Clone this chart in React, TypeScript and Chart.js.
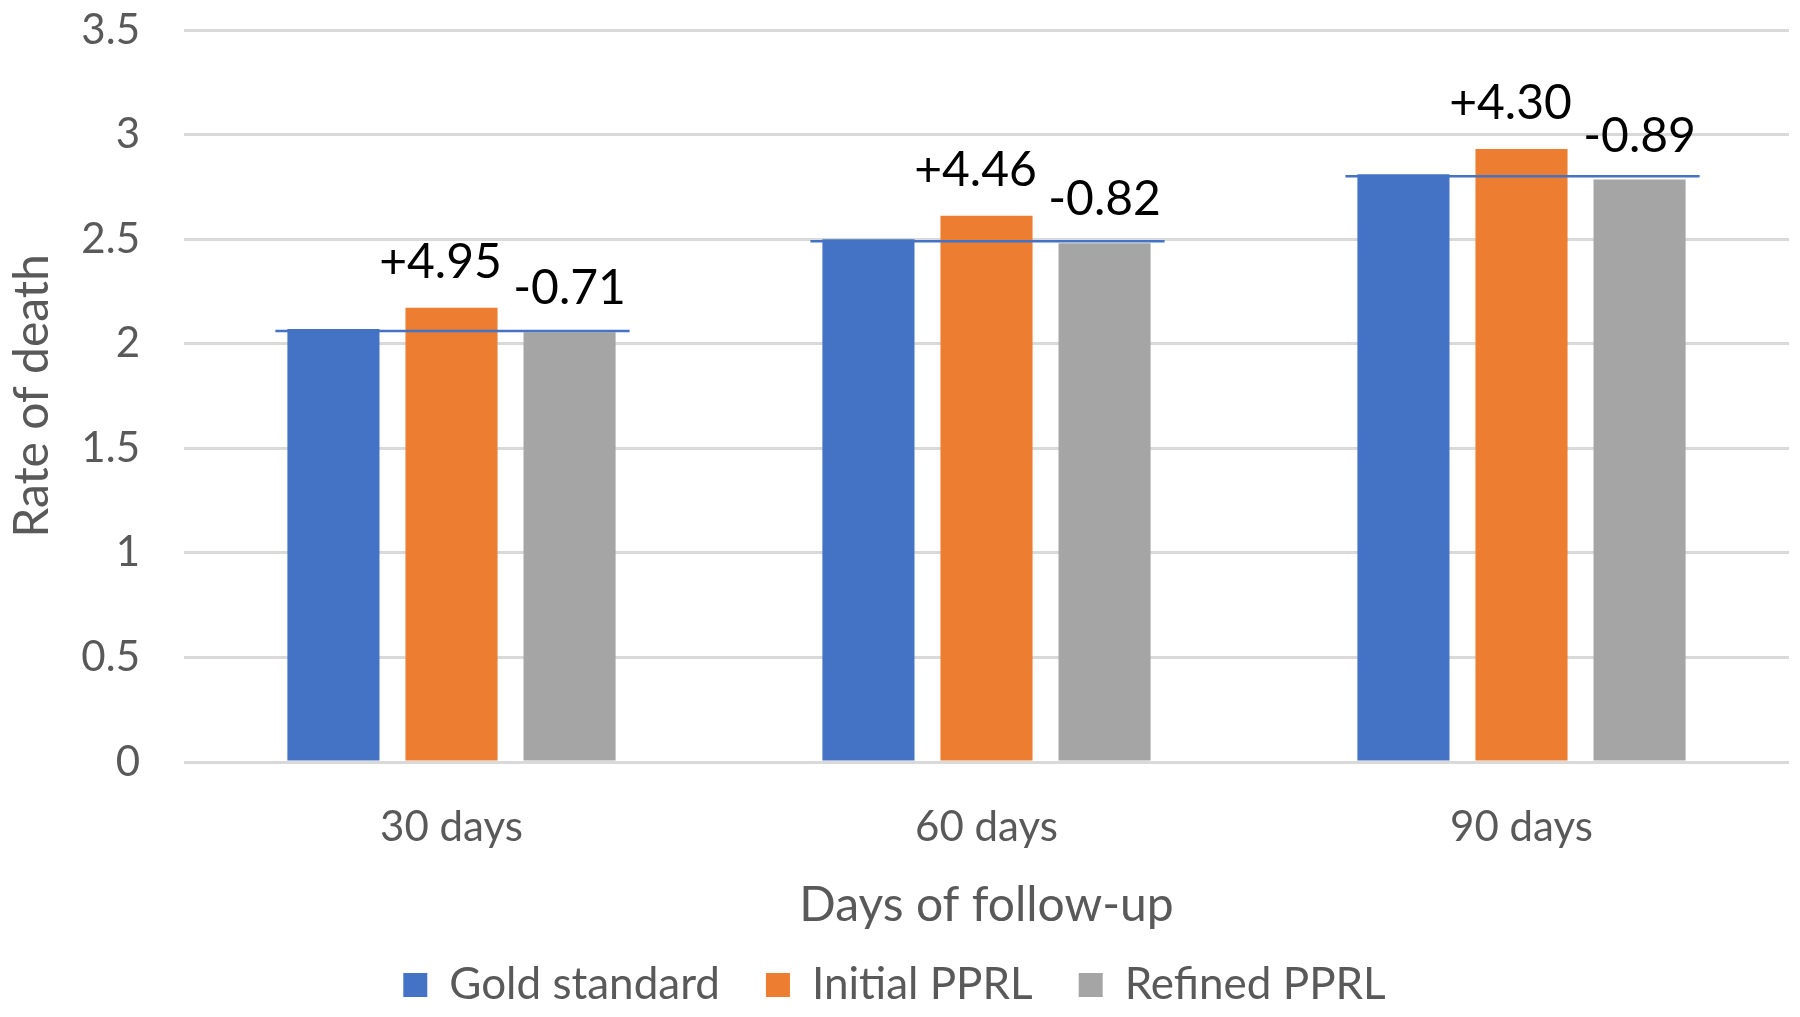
import React, { useEffect, useRef } from "react";
import { Chart, registerables } from "chart.js";

Chart.register(...registerables);

const categories = ["30 days", "60 days", "90 days"];
const goldStandard = [2.07, 2.5, 2.81];
const initialPPRL = [2.172, 2.612, 2.931];
const refinedPPRL = [2.055, 2.48, 2.785];
const initialDiff = [4.95, 4.46, 4.3];
const refinedDiff = [-0.71, -0.82, -0.89];
const yTicks = [0, 0.5, 1, 1.5, 2, 2.5, 3, 3.5];

const FONT = "Lato, 'Open Sans', sans-serif";

const fmt = (v: number) => (v > 0 ? "+" : "") + v.toFixed(2);

const overlayPlugin = {
  id: "overlay",
  afterDatasetsDraw(chart: any) {
    const ctx = chart.ctx;
    const y = chart.scales.y;
    const m0 = chart.getDatasetMeta(0).data;
    const m1 = chart.getDatasetMeta(1).data;
    const m2 = chart.getDatasetMeta(2).data;
    ctx.save();
    for (let i = 0; i < categories.length; i++) {
      const b0 = m0[i];
      const b1 = m1[i];
      const b2 = m2[i];
      if (!b0 || !b1 || !b2) continue;
      const yy = y.getPixelForValue(goldStandard[i]) + 2;
      ctx.strokeStyle = "#4472C4";
      ctx.lineWidth = 2.5;
      ctx.beginPath();
      ctx.moveTo(b0.x - b0.width / 2 - 12, yy);
      ctx.lineTo(b2.x + b2.width / 2 + 14, yy);
      ctx.stroke();

      ctx.fillStyle = "#000000";
      ctx.font = `48px ${FONT}`;
      ctx.textAlign = "center";
      ctx.textBaseline = "alphabetic";
      ctx.fillText(fmt(initialDiff[i]), b1.x - 11, b1.y - 30);
      ctx.fillText(fmt(refinedDiff[i]), b2.x, b2.y - 28);
    }
    ctx.restore();
  },
};

export default function App() {
  const ref = useRef<HTMLCanvasElement | null>(null);

  useEffect(() => {
    document.body.style.margin = "0";
    const canvas = ref.current;
    if (!canvas) return;
    const chart = new Chart(canvas, {
      type: "bar",
      data: {
        labels: categories,
        datasets: [
          { label: "Gold standard", data: goldStandard, backgroundColor: "#4472C4" },
          { label: "Initial PPRL", data: initialPPRL, backgroundColor: "#ED7D31" },
          { label: "Refined PPRL", data: refinedPPRL, backgroundColor: "#A5A5A5" },
        ],
      },
      options: {
        responsive: false,
        animation: false,
        devicePixelRatio: 1,
        layout: { padding: { top: 30, right: 11, left: 0, bottom: 0 } },
        datasets: {
          bar: { categoryPercentage: 0.662, barPercentage: 0.78, borderWidth: 0 },
        },
        plugins: {
          tooltip: { enabled: false },
          legend: {
            position: "bottom",
            maxHeight: 100,
            labels: {
              boxWidth: 24,
              boxHeight: 24,
              padding: 46,
              color: "#595959",
              font: { family: FONT, size: 44 },
            },
          },
        },
        scales: {
          x: {
            grid: { display: false, drawTicks: false },
            border: { display: false },
            ticks: { color: "#595959", font: { family: FONT, size: 42 }, padding: 40 },
            title: {
              display: true,
              text: "Days of follow-up",
              color: "#595959",
              font: { family: FONT, size: 48 },
              padding: { top: 0, bottom: -17 },
            },
            afterFit(scale: any) {
              scale.height = 155;
              scale.paddingLeft = 0;
              scale.paddingRight = 0;
            },
          },
          y: {
            min: 0,
            max: 3.5,
            grid: { color: "#D9D9D9", lineWidth: 3, drawTicks: false },
            border: { display: false },
            afterBuildTicks(scale: any) {
              scale.ticks = yTicks.map((v) => ({ value: v }));
            },
            ticks: {
              color: "#595959",
              font: { family: FONT, size: 42 },
              padding: 44,
              callback: (v: any) => String(v),
            },
            title: {
              display: true,
              text: "Rate of death",
              color: "#595959",
              font: { family: FONT, size: 48 },
            },
            afterFit(scale: any) {
              scale.width = 184;
              scale.paddingTop = 0;
              scale.paddingBottom = 0;
            },
          },
        },
      },
      plugins: [overlayPlugin],
    });
    return () => chart.destroy();
  }, []);

  return (
    <div style={{ width: 1800, height: 1017, background: "#fff" }}>
      <canvas ref={ref} width={1800} height={1017} style={{ width: 1800, height: 1017, display: "block" }} />
    </div>
  );
}
